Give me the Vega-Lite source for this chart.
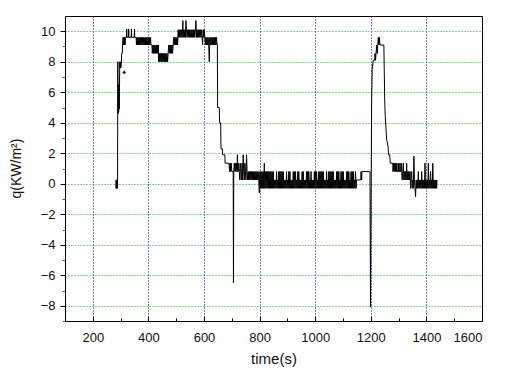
{
"$schema": "https://vega.github.io/schema/vega-lite/v6.json",
"width": 417, "height": 305,
"autosize": {"type": "none"},
"padding": {"left": 65, "top": 16, "right": 40, "bottom": 50},
"background": "white",
"config": {"view": {"stroke": "black", "strokeWidth": 1}, "font": "Liberation Sans"},
"datasets": {
"series": [
{"t":283,"q":-0.3},{"t":284,"q":0.25},{"t":285,"q":-0.3},{"t":286,"q":0.25},{"t":287,"q":-0.3},{"t":288,"q":0.25},{"t":289,"q":-0.3},
{"t":290,"q":8.0},{"t":291,"q":4.6},{"t":292,"q":6.5},{"t":293,"q":4.7},{"t":294,"q":6.4},{"t":295,"q":4.9},{"t":296,"q":6.3},{"t":297,"q":8.0},{"t":298,"q":7.6},{"t":299,"q":8.0},{"t":301,"q":7.6},{"t":303,"q":8.0},{"t":304,"q":8.55},{"t":306,"q":8.55},{"t":307,"q":9.1},
{"t":309,"q":9.6},{"t":310,"q":9.1},{"t":311,"q":9.6},{"t":312,"q":9.1},{"t":313,"q":9.6},{"t":314,"q":9.1},{"t":315,"q":9.6},{"t":316,"q":9.1},{"t":317,"q":9.6},{"t":321,"q":9.6},{"t":322,"q":10.15},{"t":323,"q":9.6},{"t":328,"q":9.6},{"t":329,"q":10.15},{"t":330,"q":9.6},{"t":338,"q":9.6},{"t":339,"q":10.15},{"t":340,"q":9.6},{"t":349,"q":9.6},{"t":350,"q":10.15},{"t":351,"q":9.6},{"t":356,"q":9.6},
{"t":357,"q":9.1},{"t":359,"q":9.6},{"t":361,"q":9.1},{"t":363,"q":9.6},{"t":365,"q":9.1},{"t":367,"q":9.6},{"t":369,"q":9.1},{"t":371,"q":9.6},{"t":373,"q":9.1},{"t":375,"q":9.6},{"t":377,"q":9.1},{"t":379,"q":9.6},{"t":381,"q":9.1},{"t":383,"q":9.6},{"t":385,"q":9.1},{"t":387,"q":9.6},{"t":389,"q":9.1},{"t":391,"q":9.6},{"t":393,"q":9.1},{"t":395,"q":9.6},{"t":397,"q":9.1},{"t":399,"q":9.6},{"t":401,"q":9.1},{"t":403,"q":9.6},{"t":405,"q":9.1},
{"t":408,"q":9.6},{"t":409,"q":9.1},{"t":413,"q":9.1},{"t":414,"q":8.55},
{"t":416,"q":9.1},{"t":418,"q":8.55},{"t":420,"q":9.1},{"t":422,"q":8.55},{"t":424,"q":9.1},{"t":426,"q":8.55},{"t":428,"q":9.1},{"t":430,"q":8.55},{"t":432,"q":9.1},{"t":434,"q":8.55},{"t":436,"q":9.1},
{"t":437,"q":8.0},{"t":439,"q":8.55},{"t":441,"q":8.0},{"t":443,"q":8.55},{"t":445,"q":8.0},{"t":447,"q":8.55},{"t":449,"q":8.0},{"t":451,"q":8.55},{"t":453,"q":8.0},{"t":455,"q":8.55},{"t":457,"q":8.0},{"t":459,"q":8.55},{"t":461,"q":8.0},{"t":463,"q":8.55},{"t":465,"q":8.0},{"t":467,"q":8.55},{"t":469,"q":8.0},{"t":471,"q":8.55},
{"t":473,"q":9.1},{"t":475,"q":8.55},{"t":477,"q":9.1},{"t":479,"q":8.55},{"t":481,"q":9.1},{"t":483,"q":8.55},{"t":485,"q":9.1},{"t":487,"q":8.55},{"t":489,"q":9.1},
{"t":491,"q":9.6},{"t":493,"q":9.1},{"t":495,"q":9.6},{"t":497,"q":9.1},{"t":499,"q":9.6},{"t":501,"q":9.1},{"t":503,"q":9.6},{"t":505,"q":9.1},
{"t":507,"q":10.1},{"t":509,"q":9.6},{"t":511,"q":10.1},{"t":513,"q":9.6},{"t":515,"q":10.1},{"t":517,"q":9.6},{"t":519,"q":10.1},{"t":521,"q":9.6},{"t":523,"q":10.1},{"t":524,"q":10.7},{"t":525,"q":9.6},{"t":527,"q":10.1},{"t":529,"q":9.6},{"t":531,"q":10.1},{"t":533,"q":9.6},{"t":535,"q":10.7},{"t":537,"q":10.1},{"t":539,"q":9.6},{"t":541,"q":10.1},{"t":543,"q":9.6},{"t":545,"q":10.1},{"t":547,"q":9.6},{"t":549,"q":10.1},{"t":551,"q":9.6},{"t":553,"q":10.1},{"t":555,"q":9.6},{"t":557,"q":10.1},{"t":559,"q":9.6},{"t":561,"q":10.1},{"t":563,"q":9.6},{"t":565,"q":10.1},{"t":567,"q":9.6},{"t":569,"q":10.1},{"t":571,"q":10.7},{"t":573,"q":9.6},{"t":575,"q":10.1},{"t":577,"q":9.6},{"t":579,"q":10.1},{"t":581,"q":9.6},{"t":583,"q":10.1},{"t":585,"q":9.6},{"t":587,"q":10.1},{"t":589,"q":9.6},{"t":591,"q":10.1},{"t":593,"q":9.6},{"t":595,"q":9.1},{"t":597,"q":10.1},{"t":599,"q":9.6},{"t":601,"q":10.1},{"t":603,"q":9.6},
{"t":605,"q":9.1},{"t":607,"q":9.6},{"t":609,"q":9.1},{"t":611,"q":9.6},{"t":613,"q":9.1},{"t":615,"q":9.6},{"t":617,"q":9.1},{"t":619,"q":8.0},{"t":621,"q":9.6},{"t":623,"q":9.1},{"t":625,"q":9.6},{"t":627,"q":9.1},{"t":629,"q":9.6},{"t":631,"q":9.1},{"t":633,"q":9.6},{"t":635,"q":9.1},{"t":637,"q":9.6},{"t":639,"q":9.1},{"t":641,"q":9.6},{"t":643,"q":9.1},{"t":645,"q":9.6},{"t":647,"q":9.1},
{"t":648,"q":9.1},{"t":649,"q":5.0},{"t":655,"q":5.0},{"t":656,"q":4.0},{"t":660,"q":4.0},{"t":661,"q":2.3},{"t":666,"q":2.3},{"t":667,"q":1.9},{"t":675,"q":1.9},{"t":676,"q":1.35},{"t":690,"q":1.35},{"t":692,"q":0.8},{"t":694,"q":1.35},{"t":696,"q":0.8},{"t":698,"q":1.35},{"t":700,"q":0.8},{"t":705,"q":0.8},{"t":706,"q":-6.5},{"t":707,"q":0.8},
{"t":709,"q":1.35},{"t":711,"q":0.8},{"t":713,"q":1.35},{"t":715,"q":0.8},{"t":717,"q":1.35},{"t":719,"q":0.8},{"t":720,"q":1.9},{"t":721,"q":1.35},{"t":723,"q":0.8},{"t":725,"q":1.35},{"t":727,"q":0.8},{"t":729,"q":0.25},{"t":731,"q":1.35},{"t":733,"q":0.8},{"t":735,"q":0.25},{"t":737,"q":1.35},{"t":739,"q":0.25},{"t":741,"q":1.9},{"t":743,"q":0.8},{"t":745,"q":0.25},{"t":747,"q":1.35},{"t":749,"q":0.8},{"t":751,"q":0.25},{"t":753,"q":1.9},{"t":755,"q":0.8},
{"t":757,"q":0.25},{"t":759,"q":0.8},{"t":761,"q":0.25},{"t":763,"q":0.8},{"t":765,"q":0.25},{"t":767,"q":0.8},{"t":769,"q":0.25},{"t":771,"q":0.8},{"t":773,"q":0.25},{"t":775,"q":0.8},{"t":777,"q":0.25},{"t":779,"q":0.8},{"t":781,"q":0.25},{"t":783,"q":0.8},{"t":785,"q":0.25},{"t":787,"q":0.8},{"t":789,"q":0.25},{"t":791,"q":0.8},{"t":793,"q":0.25},{"t":795,"q":0.8},{"t":797,"q":0.25},{"t":799,"q":-0.6},
{"t":801,"q":0.8},{"t":803,"q":-0.3},{"t":805,"q":0.8},{"t":807,"q":-0.3},{"t":809,"q":0.8},{"t":811,"q":-0.3},{"t":813,"q":0.8},{"t":815,"q":-0.3},{"t":817,"q":1.35},{"t":819,"q":-0.3},{"t":821,"q":0.8},{"t":823,"q":-0.3},{"t":825,"q":0.8},{"t":827,"q":-0.3},{"t":829,"q":0.8},{"t":831,"q":-0.3},{"t":833,"q":0.8},{"t":835,"q":-0.3},{"t":837,"q":0.8},{"t":839,"q":-0.3},{"t":841,"q":0.8},{"t":843,"q":-0.3},{"t":845,"q":0.8},{"t":847,"q":-0.3},{"t":849,"q":0.8},{"t":851,"q":-0.3},{"t":853,"q":0.25},{"t":855,"q":-0.3},{"t":857,"q":0.25},{"t":859,"q":-0.3},{"t":861,"q":0.8},{"t":863,"q":-0.3},{"t":865,"q":0.25},{"t":867,"q":-0.3},{"t":869,"q":0.8},{"t":871,"q":-0.3},{"t":873,"q":0.8},{"t":875,"q":-0.3},{"t":877,"q":0.8},{"t":879,"q":-0.3},{"t":881,"q":0.8},{"t":883,"q":-0.3},{"t":885,"q":0.8},{"t":887,"q":-0.3},{"t":889,"q":0.25},{"t":891,"q":-0.3},{"t":893,"q":0.25},{"t":895,"q":-0.3},{"t":897,"q":0.8},{"t":899,"q":-0.3},{"t":901,"q":0.25},{"t":903,"q":-0.3},{"t":905,"q":0.8},{"t":907,"q":-0.3},{"t":909,"q":0.8},{"t":911,"q":-0.3},{"t":913,"q":0.25},{"t":915,"q":-0.3},{"t":917,"q":0.25},{"t":919,"q":-0.3},{"t":921,"q":0.8},{"t":923,"q":-0.3},{"t":925,"q":0.8},{"t":927,"q":-0.3},{"t":929,"q":0.8},{"t":931,"q":-0.3},{"t":933,"q":0.25},{"t":935,"q":-0.3},{"t":937,"q":0.8},{"t":939,"q":-0.3},{"t":941,"q":0.8},{"t":943,"q":-0.3},{"t":945,"q":0.25},{"t":947,"q":-0.3},{"t":949,"q":0.25},{"t":951,"q":-0.3},{"t":953,"q":0.8},{"t":955,"q":-0.3},{"t":957,"q":0.8},{"t":959,"q":-0.3},{"t":961,"q":0.25},{"t":963,"q":-0.3},{"t":965,"q":0.25},{"t":967,"q":-0.3},{"t":969,"q":0.8},{"t":971,"q":-0.3},{"t":973,"q":0.8},{"t":975,"q":-0.3},{"t":977,"q":0.8},{"t":979,"q":-0.3},{"t":981,"q":0.25},{"t":983,"q":-0.3},{"t":985,"q":0.8},{"t":987,"q":-0.3},{"t":989,"q":0.25},{"t":991,"q":-0.3},{"t":993,"q":0.25},{"t":995,"q":-0.3},{"t":997,"q":0.8},{"t":999,"q":-0.3},{"t":1001,"q":0.8},{"t":1003,"q":-0.3},{"t":1005,"q":0.8},{"t":1007,"q":-0.3},{"t":1009,"q":0.25},{"t":1011,"q":-0.3},{"t":1013,"q":0.8},{"t":1015,"q":-0.3},{"t":1017,"q":0.8},{"t":1019,"q":-0.3},{"t":1021,"q":0.8},{"t":1023,"q":-0.3},{"t":1025,"q":0.8},{"t":1027,"q":-0.3},{"t":1029,"q":0.8},{"t":1031,"q":-0.3},{"t":1033,"q":0.25},{"t":1035,"q":-0.3},{"t":1037,"q":0.25},{"t":1039,"q":-0.3},{"t":1041,"q":0.8},{"t":1043,"q":-0.3},{"t":1045,"q":0.25},{"t":1047,"q":-0.3},{"t":1049,"q":0.8},{"t":1051,"q":-0.3},{"t":1053,"q":0.8},{"t":1055,"q":-0.3},{"t":1057,"q":0.8},{"t":1059,"q":-0.3},{"t":1061,"q":0.8},{"t":1063,"q":-0.3},{"t":1065,"q":0.8},{"t":1067,"q":-0.3},{"t":1069,"q":0.25},{"t":1071,"q":-0.3},{"t":1073,"q":0.25},{"t":1075,"q":-0.3},{"t":1077,"q":0.8},{"t":1079,"q":-0.3},{"t":1081,"q":0.8},{"t":1083,"q":-0.3},{"t":1085,"q":0.8},{"t":1087,"q":-0.3},{"t":1089,"q":0.25},{"t":1091,"q":-0.3},{"t":1093,"q":0.8},{"t":1095,"q":-0.3},{"t":1097,"q":0.8},{"t":1099,"q":-0.3},{"t":1101,"q":0.8},{"t":1103,"q":-0.3},{"t":1105,"q":0.25},{"t":1107,"q":-0.3},{"t":1109,"q":0.25},{"t":1111,"q":-0.3},{"t":1113,"q":0.8},{"t":1115,"q":-0.3},{"t":1117,"q":0.8},{"t":1119,"q":-0.3},{"t":1121,"q":0.8},{"t":1123,"q":-0.3},{"t":1125,"q":0.25},{"t":1127,"q":-0.3},{"t":1129,"q":0.8},{"t":1131,"q":-0.3},{"t":1133,"q":0.8},{"t":1135,"q":-0.3},{"t":1137,"q":0.8},{"t":1139,"q":-0.3},{"t":1141,"q":0.25},{"t":1143,"q":-0.3},{"t":1145,"q":0.8},{"t":1147,"q":-0.3},
{"t":1149,"q":0.25},{"t":1164,"q":0.25},{"t":1165,"q":0.8},{"t":1167,"q":0.25},{"t":1168,"q":0.8},{"t":1197,"q":0.8},{"t":1199,"q":-8.06},
{"t":1203,"q":5.5},{"t":1205,"q":7.5},{"t":1209,"q":8.1},{"t":1214,"q":8.1},{"t":1215,"q":8.55},{"t":1217,"q":8.1},{"t":1219,"q":8.55},{"t":1221,"q":9.1},{"t":1223,"q":8.55},{"t":1225,"q":9.1},{"t":1227,"q":9.6},{"t":1229,"q":9.1},{"t":1231,"q":9.6},{"t":1233,"q":9.1},{"t":1247,"q":9.1},
{"t":1250,"q":5.5},{"t":1252,"q":4.4},{"t":1255,"q":3.5},{"t":1257,"q":2.9},{"t":1262,"q":2.45},{"t":1264,"q":1.9},{"t":1268,"q":1.9},{"t":1270,"q":1.35},{"t":1279,"q":1.35},
{"t":1280,"q":0.8},{"t":1282,"q":1.35},{"t":1284,"q":0.8},{"t":1286,"q":1.35},{"t":1288,"q":0.8},{"t":1290,"q":1.35},{"t":1292,"q":0.8},{"t":1294,"q":1.35},{"t":1295,"q":0.8},
{"t":1299,"q":0.8},{"t":1300,"q":1.35},{"t":1301,"q":0.8},{"t":1304,"q":0.8},{"t":1305,"q":1.35},{"t":1306,"q":0.8},{"t":1309,"q":0.8},{"t":1310,"q":1.35},{"t":1311,"q":0.8},
{"t":1313,"q":0.25},{"t":1315,"q":0.8},{"t":1317,"q":1.35},{"t":1319,"q":0.25},{"t":1321,"q":0.8},{"t":1323,"q":0.25},{"t":1325,"q":0.8},{"t":1327,"q":0.25},{"t":1329,"q":1.35},{"t":1331,"q":0.25},{"t":1333,"q":0.8},{"t":1335,"q":0.25},{"t":1337,"q":0.8},{"t":1339,"q":0.25},{"t":1341,"q":0.8},
{"t":1343,"q":-0.3},{"t":1345,"q":0.25},{"t":1347,"q":0.8},{"t":1349,"q":-0.3},{"t":1351,"q":0.25},{"t":1353,"q":-0.3},{"t":1355,"q":1.8},{"t":1357,"q":0.25},{"t":1359,"q":-0.3},{"t":1361,"q":-0.85},{"t":1363,"q":0.25},{"t":1365,"q":-0.3},{"t":1367,"q":0.25},{"t":1369,"q":-0.3},{"t":1371,"q":0.8},{"t":1373,"q":-0.3},{"t":1375,"q":0.25},{"t":1377,"q":-0.3},{"t":1379,"q":0.25},{"t":1381,"q":-0.3},{"t":1383,"q":0.8},{"t":1385,"q":-0.3},{"t":1387,"q":0.25},{"t":1389,"q":-0.3},{"t":1391,"q":0.25},{"t":1393,"q":-0.3},{"t":1395,"q":1.35},{"t":1397,"q":-0.3},{"t":1399,"q":0.25},{"t":1401,"q":-0.3},{"t":1403,"q":0.25},{"t":1405,"q":-0.3},{"t":1407,"q":1.35},{"t":1409,"q":-0.3},{"t":1411,"q":0.25},{"t":1413,"q":-0.3},{"t":1415,"q":0.8},{"t":1417,"q":-0.3},{"t":1419,"q":0.25},{"t":1421,"q":-0.3},{"t":1423,"q":1.35},{"t":1425,"q":-0.3},{"t":1427,"q":0.25},{"t":1429,"q":-0.3},{"t":1431,"q":0.25},{"t":1433,"q":-0.3},{"t":1435,"q":0.25},{"t":1437,"q":-0.3},{"t":1438,"q":0.25}
],
"marker": [{"t":313,"q":7.3}]
},
"resolve": {"axis": {"x": "independent", "y": "independent"}},
"layer": [
{
"data": {"name": "series"},
"mark": {"type": "line", "color": "black", "strokeWidth": 1, "interpolate": "linear"},
"encoding": {
"x": {"field": "t", "type": "quantitative", "scale": {"domain": [100, 1600], "nice": false, "zero": false},
"axis": {"orient": "bottom", "values": [200, 400, 600, 800, 1000, 1200, 1400, 1600], "format": "d", "grid": true, "gridColor": "#000070", "gridDash": [1, 2], "gridWidth": 1, "gridOpacity": 1,
"tickSize": -5, "tickColor": "black", "domainColor": "black", "labelPadding": 15, "labelFontSize": 13, "labelColor": "#111", "labelFont": "Liberation Sans",
"title": "time(s)", "titleFontSize": 15, "titleFontWeight": "normal", "titleColor": "#111", "titleFont": "Liberation Sans", "titleY": 37, "titleBaseline": "middle"}},
"y": {"field": "q", "type": "quantitative", "scale": {"domain": [-9, 11], "nice": false, "zero": false},
"axis": {"orient": "left", "values": [-8, -6, -4, -2, 0, 2, 4, 6, 8, 10], "format": "d", "grid": true, "gridColor": "#2ca02c", "gridDash": [1, 2], "gridWidth": 1, "gridOpacity": 1,
"tickSize": 5, "tickColor": "black", "domainColor": "black", "labelPadding": 5, "labelFontSize": 13, "labelColor": "#111", "labelFont": "Liberation Sans",
"title": "q(KW/m²)", "titleFontSize": 14, "titleFontWeight": "normal", "titleColor": "#111", "titleFont": "Liberation Sans", "titleX": -49, "titleY": 152, "titleAngle": -90, "titleAlign": "center", "titleBaseline": "middle"}}
}
},
{
"data": {"name": "marker"},
"mark": {"type": "point", "shape": "cross", "filled": true, "color": "black", "size": 10, "opacity": 1},
"encoding": {
"x": {"field": "t", "type": "quantitative",
"axis": {"orient": "bottom", "values": [100, 300, 500, 700, 900, 1100, 1300, 1500], "grid": false, "domain": false, "labels": false, "title": null, "tickSize": -3, "tickColor": "black"}},
"y": {"field": "q", "type": "quantitative",
"axis": {"orient": "left", "values": [-9, -7, -5, -3, -1, 1, 3, 5, 7, 9], "grid": false, "domain": false, "labels": false, "title": null, "tickSize": 3, "tickColor": "#555"}}
}
}
]
}
